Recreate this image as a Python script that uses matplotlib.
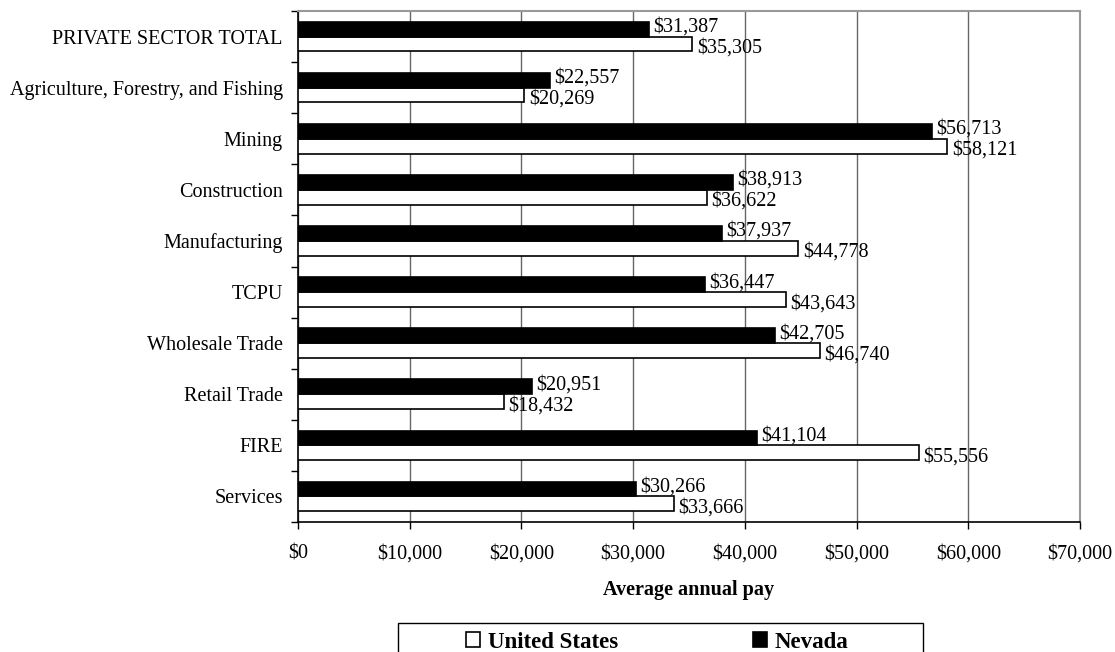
import numpy as np
import matplotlib
matplotlib.use("Agg")
import matplotlib.pyplot as plt
from matplotlib.ticker import FuncFormatter
from matplotlib.patches import Rectangle

plt.rcParams['font.family'] = ['Liberation Serif', 'DejaVu Serif']

# data
industries = ['PRIVATE SECTOR TOTAL', 'Agriculture, Forestry, and Fishing', 'Mining',
              'Construction', 'Manufacturing', 'TCPU', 'Wholesale Trade',
              'Retail Trade', 'FIRE', 'Services']
nevada = [31387, 22557, 56713, 38913, 37937, 36447, 42705, 20951, 41104, 30266]
us = [35305, 20269, 58121, 36622, 44778, 43643, 46740, 18432, 55556, 33666]

fig = plt.figure(figsize=(11.15, 6.52), dpi=100)
ax = fig.add_axes([0.2673, 0.1994, 0.7013, 0.7837])

n = len(industries)
pos = np.arange(n)[::-1]   # first category at top
h = 0.29

b_us = ax.barh(pos - h / 2, us, height=h, color='white', edgecolor='black', linewidth=1.2,
               label='United States', zorder=3)
b_nv = ax.barh(pos + h / 2, nevada, height=h, color='black', edgecolor='black', linewidth=1.2,
               label='Nevada', zorder=3)

fs = 14.5
for p, v in zip(pos, nevada):
    ax.text(v + 400, p + h / 2 + 0.04, '${:,}'.format(v), va='center', ha='left', fontsize=fs, zorder=4)
for p, v in zip(pos, us):
    ax.text(v + 400, p - h / 2 - 0.08, '${:,}'.format(v), va='center', ha='left', fontsize=fs, zorder=4)

ax.set_xlim(0, 70000)
ax.set_ylim(-0.5, n - 0.5)
ax.set_xticks(np.arange(0, 70001, 10000))
ax.xaxis.set_major_formatter(FuncFormatter(lambda x, _: '${:,.0f}'.format(x)))
ax.tick_params(axis='x', labelsize=fs, length=5, width=1, direction='out', pad=11)

# category labels between boundary ticks
ax.set_yticks(np.arange(-0.5, n, 1.0))
ax.set_yticklabels([])
ax.set_yticks(pos, minor=True)
ax.set_yticklabels(industries, minor=True, fontsize=fs)
ax.tick_params(axis='y', which='major', length=5, width=1, direction='out')
ax.tick_params(axis='y', which='minor', length=0, pad=11)

ax.grid(axis='x', color='#666666', linewidth=1, zorder=0)
ax.spines['left'].set_linewidth(1.2)
ax.spines['bottom'].set_linewidth(1.2)
ax.spines['top'].set_color('#999999')
ax.spines['right'].set_color('#999999')
ax.spines['top'].set_linewidth(1.5)
ax.spines['right'].set_linewidth(1.5)

ax.set_xlabel('Average annual pay', fontsize=fs, fontweight='bold', labelpad=12)

# legend box frame, running off the bottom edge
fig.patches.append(Rectangle((398 / 1115, -0.05), (923 - 398) / 1115, 0.05 + 29 / 652,
                             transform=fig.transFigure, fill=False, edgecolor='black',
                             linewidth=1.0))
leg = fig.legend(handles=[b_us, b_nv], loc='center left', bbox_to_anchor=(466 / 1115, 1 - 642 / 652),
                 ncol=2, frameon=False, prop={'weight': 'bold', 'size': 16.5},
                 handlelength=0.6, handleheight=0.6, handletextpad=0.35,
                 columnspacing=5.9, borderpad=0, borderaxespad=0)

fig.savefig('out.png', dpi=100)
